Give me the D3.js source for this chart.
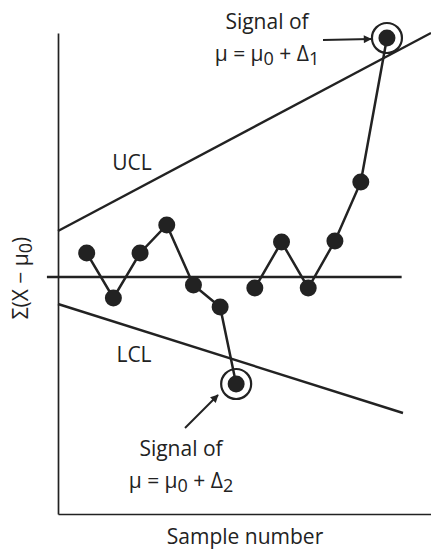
<!DOCTYPE html>
<html>
<head>
<meta charset="utf-8">
<script src="https://cdn.jsdelivr.net/npm/d3@7"></script>
<style>
  body { margin: 0; background: #fff; }
  text { font-family: "Open Sans", sans-serif; fill: #222; }
</style>
</head>
<body>
<div id="chart"></div>
<script>
// CUSUM chart data (sample number, cumulative sum in arbitrary units)
const run1Samples = [1, 2, 3, 4, 5, 6, 6.6];
const run1Values = [1.2, -1.05, 1.2, 2.6, -0.4, -1.5, -5.35];
const run2Samples = [7.3, 8.3, 9.3, 10.3, 11.27, 12.25];
const run2Values = [-0.55, 1.75, -0.55, 1.8, 4.75, 11.95];
const uclEnds = [[-0.075, 2.3], [13.9, 12.2]];
const lclEnds = [[-0.075, -1.35], [12.85, -6.8]];
const centerEnds = [[-0.49, 0], [12.8, 0]];

const width = 431, height = 552;
const fs = "21px", subFs = "18px";

const svg = d3.select("#chart")
  .append("svg")
    .attr("width", width)
    .attr("height", height);

svg.append("defs").append("marker")
    .attr("id", "arrow")
    .attr("viewBox", "0 0 10 10")
    .attr("refX", 9)
    .attr("refY", 5)
    .attr("markerWidth", 11)
    .attr("markerHeight", 8)
    .attr("markerUnits", "userSpaceOnUse")
    .attr("orient", "auto")
  .append("path")
    .attr("d", "M0,0L10,5L0,10Z")
    .attr("fill", "#222");

// scales
const x = d3.scaleLinear().domain([-0.075, 13.9]).range([58, 431]);
const y = d3.scaleLinear().domain([-11.85, 12.2]).range([514, 33]);

// axes, no ticks
svg.append("g")
  .attr("transform", "translate(0," + y(-11.85) + ")")
  .call(d3.axisBottom(x).tickValues([]).tickSizeOuter(0))
  .select(".domain").attr("stroke", "#222").attr("stroke-width", 1.7);
svg.append("g")
  .attr("transform", "translate(" + x(-0.075) + ",0)")
  .call(d3.axisLeft(y).tickValues([]).tickSizeOuter(0))
  .select(".domain").attr("stroke", "#222").attr("stroke-width", 1.7);

const line = d3.line().x(d => x(d[0])).y(d => y(d[1]));

// center line + control limits
[centerEnds, uclEnds, lclEnds].forEach(function(pts) {
  svg.append("path")
    .attr("d", line(pts))
    .attr("fill", "none")
    .attr("stroke", "#222")
    .attr("stroke-width", 2.4);
});

// the two runs
[[run1Samples, run1Values], [run2Samples, run2Values]].forEach(function(run) {
  const pts = run[0].map((s, i) => [s, run[1][i]]);
  svg.append("path")
    .attr("d", line(pts))
    .attr("fill", "none")
    .attr("stroke", "#222")
    .attr("stroke-width", 2.5);
  svg.selectAll(null)
    .data(pts)
    .enter()
    .append("circle")
      .attr("cx", d => x(d[0]))
      .attr("cy", d => y(d[1]))
      .attr("r", 8.5)
      .attr("fill", "#222");
});

// rings round the signal points
const signals = [
  [run1Samples[run1Samples.length - 1], run1Values[run1Values.length - 1]],
  [run2Samples[run2Samples.length - 1], run2Values[run2Values.length - 1]]
];
svg.selectAll(null)
  .data(signals)
  .enter()
  .append("circle")
    .attr("cx", d => x(d[0]))
    .attr("cy", d => y(d[1]))
    .attr("r", 15)
    .attr("fill", "none")
    .attr("stroke", "#222")
    .attr("stroke-width", 2.2);

// arrows to the signals
svg.append("line")
  .attr("x1", 323).attr("y1", 40).attr("x2", 371).attr("y2", 39)
  .attr("stroke", "#222").attr("stroke-width", 2)
  .attr("marker-end", "url(#arrow)");
svg.append("line")
  .attr("x1", 185).attr("y1", 428).attr("x2", 218).attr("y2", 395)
  .attr("stroke", "#222").attr("stroke-width", 2)
  .attr("marker-end", "url(#arrow)");

// labels
function signalLabel(cx, y0, sub) {
  svg.append("text")
    .attr("x", cx).attr("y", y0)
    .attr("text-anchor", "middle")
    .style("font-size", fs)
    .text("Signal of");
  const t = svg.append("text")
    .attr("x", cx).attr("y", y0 + 32)
    .attr("text-anchor", "middle")
    .style("font-size", fs);
  t.append("tspan").text("μ = μ");
  t.append("tspan").attr("dy", 4).style("font-size", subFs).text("0");
  t.append("tspan").attr("dy", -4).text(" + Δ");
  t.append("tspan").attr("dy", 4).style("font-size", subFs).text(sub);
}
signalLabel(267, 29, "1");
signalLabel(181, 456, "2");

svg.append("text")
  .attr("x", 132).attr("y", 170)
  .attr("text-anchor", "middle")
  .style("font-size", fs)
  .text("UCL");
svg.append("text")
  .attr("x", 134).attr("y", 362)
  .attr("text-anchor", "middle")
  .style("font-size", fs)
  .text("LCL");

svg.append("text")
  .attr("x", 245).attr("y", 544)
  .attr("text-anchor", "middle")
  .style("font-size", fs)
  .text("Sample number");

const yl = svg.append("text")
  .attr("transform", "translate(28,278) rotate(-90)")
  .attr("text-anchor", "middle")
  .style("font-size", fs);
yl.append("tspan").text("Σ(X − μ");
yl.append("tspan").attr("dy", 4).style("font-size", subFs).text("0");
yl.append("tspan").attr("dy", -4).text(")");
</script>
</body>
</html>
